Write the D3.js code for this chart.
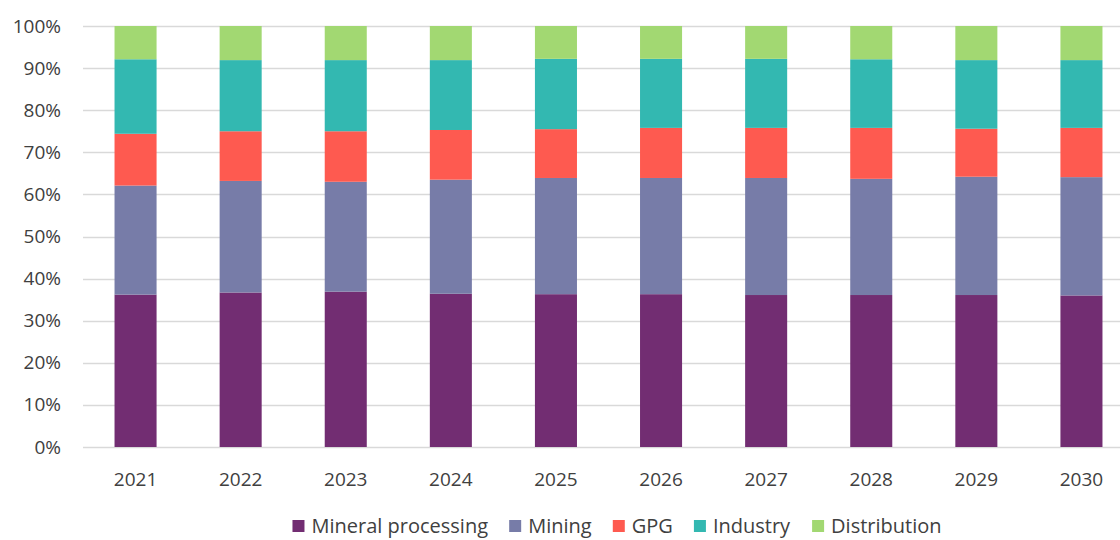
<!DOCTYPE html>
<html>
<head>
<meta charset="utf-8">
<script src="https://cdn.jsdelivr.net/npm/d3@7"></script>
<style>
    body { margin: 0; background: #fff; }
    #chart { width: 1120px; height: 540px; overflow: hidden; }
    text { font-family: "Open Sans", sans-serif; fill: #404040; }
</style>
</head>
<body>
<div id="chart"></div>
<script>
// Chart data (shares in %)
const years = ["2021", "2022", "2023", "2024", "2025", "2026", "2027", "2028", "2029", "2030"];
const seriesNames = ["Mineral processing", "Mining", "GPG", "Industry", "Distribution"];
const mineralProcessing = [36.2, 36.7, 36.9, 36.4, 36.3, 36.3, 36.1, 36.1, 36.1, 36.0];
const mining = [25.9, 26.5, 26.1, 27.1, 27.6, 27.6, 27.8, 27.6, 28.1, 28.1];
const gpg = [12.3, 11.8, 12.0, 11.8, 11.6, 11.9, 11.9, 12.1, 11.4, 11.7];
const industry = [17.7, 16.9, 16.9, 16.6, 16.7, 16.4, 16.4, 16.3, 16.3, 16.1];
const distribution = [7.9, 8.1, 8.1, 8.1, 7.8, 7.8, 7.8, 7.9, 8.1, 8.1];
const yTicks = [0, 10, 20, 30, 40, 50, 60, 70, 80, 90, 100];
const colors = ["#722d72", "#777ca8", "#fe5a50", "#33b8b1", "#a2d872"];

const seriesValues = [mineralProcessing, mining, gpg, industry, distribution];

// build table for d3.stack
const table = years.map((y, i) => {
    let row = { year: y };
    seriesNames.forEach((s, j) => { row[s] = seriesValues[j][i]; });
    return row;
});

const width = 1120, height = 540;
const margin = { top: 26, right: -14, bottom: 93, left: 83 };

const svg = d3.select("#chart").append("svg")
    .attr("width", width)
    .attr("height", height);

const x = d3.scaleBand()
    .domain(years)
    .range([margin.left, width - margin.right])
    .paddingInner(0.6)
    .paddingOuter(0.3);

const y = d3.scaleLinear()
    .domain([0, 100])
    .range([height - margin.bottom, margin.top]);

// gridlines
svg.append("g")
    .selectAll("line")
    .data(yTicks)
    .enter()
    .append("line")
    .attr("x1", margin.left)
    .attr("x2", width)
    .attr("y1", d => Math.round(y(d)) + 0.5)
    .attr("y2", d => Math.round(y(d)) + 0.5)
    .attr("stroke", "#d9d9d9")
    .attr("stroke-width", 1.5);

// y axis labels
const yAxis = svg.append("g")
    .attr("transform", `translate(${margin.left}, 0)`)
    .call(d3.axisLeft(y).tickValues(yTicks).tickFormat(d => d + "%").tickSize(0).tickPadding(22));
yAxis.select(".domain").remove();
yAxis.selectAll("text")
    .style("font-size", "19px")
    .style("font-family", "Open Sans, sans-serif")
    .attr("fill", "#404040");

// stacked bars
const stack = d3.stack().keys(seriesNames);
const stacked = stack(table);

svg.append("g")
    .selectAll("g")
    .data(stacked)
    .enter()
    .append("g")
    .attr("fill", (d, i) => colors[i])
    .selectAll("rect")
    .data(d => d)
    .enter()
    .append("rect")
    .attr("x", d => x(d.data.year))
    .attr("width", x.bandwidth())
    .attr("y", d => y(d[1]))
    .attr("height", d => y(d[0]) - y(d[1]));

// x axis labels
const xAxis = svg.append("g")
    .attr("transform", `translate(0, ${height - margin.bottom})`)
    .call(d3.axisBottom(x).tickSize(0).tickPadding(26));
xAxis.select(".domain").remove();
xAxis.selectAll("text")
    .style("font-size", "19px")
    .style("font-family", "Open Sans, sans-serif")
    .attr("fill", "#404040");

// legend
const legend = svg.append("g").attr("class", "legend");
const items = legend.selectAll("g")
    .data(seriesNames)
    .enter()
    .append("g");

items.append("rect")
    .attr("width", 12)
    .attr("height", 12)
    .attr("y", -11)
    .attr("fill", (d, i) => colors[i]);

items.append("text")
    .attr("x", 19)
    .attr("y", 0)
    .attr("dy", "0.1em")
    .style("font-size", "20px")
    .text(d => d);

// lay out legend items in a row
let offset = 0;
items.each(function () {
    const g = d3.select(this);
    g.attr("transform", `translate(${offset}, 0)`);
    offset += g.node().getBBox().width + 21;
});
const legendWidth = offset - 21;
legend.attr("transform", `translate(${617 - legendWidth / 2}, 531)`);
</script>
</body>
</html>
